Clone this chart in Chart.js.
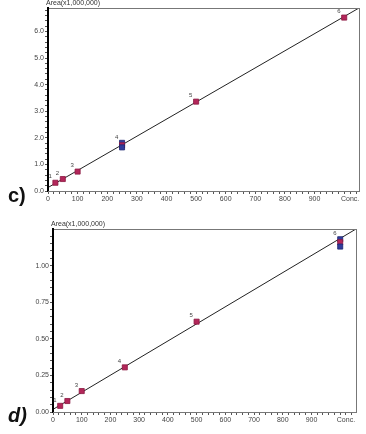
<!DOCTYPE html>
<html><head><meta charset="utf-8">
<script src="https://cdn.jsdelivr.net/npm/chart.js@4/dist/chart.umd.min.js"></script>
<style>
html,body{margin:0;padding:0;background:#fff;width:366px;height:434px;overflow:hidden;font-family:"Liberation Sans",Arial,sans-serif}
.wrap{position:absolute;left:0;width:366px}
.lab{position:absolute;font:bold italic 20px "Liberation Sans",Arial,sans-serif;color:#111}
</style></head><body>
<div class="wrap" style="top:0;height:215px"><canvas id="c1" width="366" height="215"></canvas></div>
<div class="wrap" style="top:220px;height:214px"><canvas id="c2" width="366" height="214"></canvas></div>
<div class="lab" style="left:8px;top:184px;font-style:normal">c)</div>
<div class="lab" style="left:8px;top:404px">d)</div>
<script>
// ---- data ----
const concC = [25, 50, 100, 250, 250, 250, 500, 1000];
const areaC = [0.31, 0.45, 0.73, 1.81, 1.72, 1.64, 3.36, 6.52];
const colorC = ['r','r','r','b','r','b','r','r'];
const levelC = ['1','2','3','4','','','5','6'];
const fitC = [[0, 0.13], [1050, 6.88]];

const concD = [25, 50, 100, 250, 500, 1000, 1000, 1000];
const areaD = [0.042, 0.075, 0.143, 0.305, 0.617, 1.18, 1.16, 1.13];
const colorD = ['r','r','r','r','r','b','r','b'];
const levelD = ['1','2','3','4','5','6','',''];
const fitD = [[0, 0.018], [1055, 1.25]];

const xTicks = [];
for (let v = 0; v <= 1040; v += 20) xTicks.push(v);
const xLabels = {0:'0',100:'100',200:'200',300:'300',400:'400',500:'500',600:'600',700:'700',800:'800',900:'900',1020:'Conc.'};
const yTicksC = []; for (let i = 0; i <= 34; i++) yTicksC.push(+(i*0.2).toFixed(1));
const yLabelsC = {0:'0.0',1:'1.0',2:'2.0',3:'3.0',4:'4.0',5:'5.0',6:'6.0'};
const yTicksD = []; for (let i = 0; i <= 24; i++) yTicksD.push(+(i*0.05).toFixed(2));
const yLabelsD = {0:'0.00',0.25:'0.25',0.5:'0.50',0.75:'0.75',1:'1.00'};

const RED = '#b3265a', BLUE = '#323c9c';

const boxPlugin = {
  id: 'box',
  afterDraw(chart, args, opts) {
    const {ctx, chartArea: a} = chart;
    ctx.save();
    ctx.strokeStyle = '#777'; ctx.lineWidth = 1;
    ctx.strokeRect(a.left + 0.5, a.top + 0.5, a.right - a.left, a.bottom - a.top);
    ctx.strokeStyle = '#000'; ctx.lineWidth = 2;
    ctx.beginPath(); ctx.moveTo(a.left, a.top); ctx.lineTo(a.left, a.bottom); ctx.stroke();
    // axis title
    ctx.fillStyle = '#333'; ctx.font = '7px "Liberation Sans", Arial, sans-serif';
    ctx.textAlign = 'left'; ctx.textBaseline = 'bottom';
    ctx.fillText('Area(x1,000,000)', a.left - 2, a.top - 1);
    // point level labels
    const ds = chart.data.datasets[1];
    const meta = chart.getDatasetMeta(1);
    ctx.font = '6px "Liberation Sans", Arial, sans-serif';
    ctx.fillStyle = '#444';
    meta.data.forEach((p, i) => {
      const t = opts.levels[i];
      if (t) ctx.fillText(t, p.x - 7, p.y - 3);
    });
    ctx.restore();
  }
};

function makeChart(id, conc, area, colors, levels, fit, yTicks, yLabels, ymax, yW, xH, pad) {
  return new Chart(document.getElementById(id), {
    type: 'scatter',
    data: {
      datasets: [
        { type: 'line', data: fit.map(p => ({x: p[0], y: p[1]})), borderColor: '#222', borderWidth: 1,
          pointRadius: 0, fill: false, order: 2 },
        { data: conc.map((c, i) => ({x: c, y: area[i]})), pointStyle: 'rect', pointRadius: 3.6,
          backgroundColor: colors.map(c => c === 'b' ? BLUE : RED),
          borderColor: colors.map(c => c === 'b' ? '#1c2470' : '#8a1840'), borderWidth: 0.8, order: 1 }
      ]
    },
    options: {
      responsive: false, animation: false,
      layout: { padding: pad },
      plugins: { legend: { display: false }, tooltip: { enabled: false }, box: { levels } },
      scales: {
        x: {
          type: 'linear', min: 0, max: fit[1][0],
          afterBuildTicks: s => { s.ticks = xTicks.map(v => ({value: v})); },
          afterFit: s => { s.height = xH; },
          grid: { drawOnChartArea: false, drawTicks: true, tickLength: 3, color: '#555' },
          border: { display: true, color: '#555' },
          ticks: { autoSkip: false, maxRotation: 0, padding: 1, color: '#444',
            font: { size: 7, family: '"Liberation Sans", Arial, sans-serif' },
            callback: v => xLabels[v] !== undefined ? xLabels[v] : '' }
        },
        y: {
          type: 'linear', min: 0, max: ymax,
          afterBuildTicks: s => { s.ticks = yTicks.map(v => ({value: v})); },
          afterFit: s => { s.width = yW; },
          grid: { drawOnChartArea: false, drawTicks: true, tickLength: 3, color: '#555' },
          border: { display: true, color: '#000', width: 2 },
          ticks: { autoSkip: false, padding: 1, color: '#444',
            font: { size: 7, family: '"Liberation Sans", Arial, sans-serif' },
            callback: v => yLabels[v] !== undefined ? yLabels[v] : '' }
        }
      }
    },
    plugins: [boxPlugin]
  });
}

makeChart('c1', concC, areaC, colorC, levelC, fitC, yTicksC, yLabelsC, fitC[1][1], 48, 24, {left: 0, right: 7, top: 8, bottom: 0});
makeChart('c2', concD, areaD, colorD, levelD, fitD, yTicksD, yLabelsD, fitD[1][1], 53, 22, {left: 0, right: 10, top: 9, bottom: 0});
</script>
</body></html>
